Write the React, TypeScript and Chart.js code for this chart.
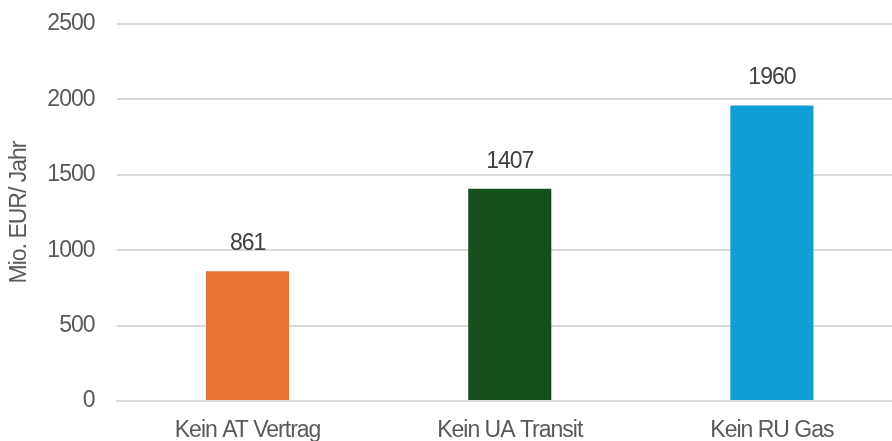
import React, { useEffect, useRef } from "react";
import { Chart, registerables } from "chart.js";

Chart.register(...registerables);

const categories = ["Kein AT Vertrag", "Kein UA Transit", "Kein RU Gas"];
const values = [861, 1407, 1960];
const barColors = ["#E97132", "#154F1D", "#0F9ED5"];
const yTicks = [0, 500, 1000, 1500, 2000, 2500];
const yTitle = "Mio. EUR/ Jahr";

const FONT = "'Liberation Sans', Arial, sans-serif";
const TEXT = "#595959";
const SPACING = "-1px";

const valueLabels = {
  id: "valueLabels",
  afterDatasetsDraw(chart: any) {
    const ctx = chart.ctx;
    const meta = chart.getDatasetMeta(0);
    ctx.save();
    ctx.font = `23px ${FONT}`;
    ctx.fillStyle = "#404040";
    ctx.textAlign = "center";
    ctx.textBaseline = "middle";
    try { (ctx as any).letterSpacing = SPACING; } catch (e) {}
    meta.data.forEach((el: any, i: number) => {
      ctx.fillText(String(values[i]), el.x, el.y - 27.5);
    });
    ctx.restore();
  },
};

const tightText = {
  id: "tightText",
  beforeInit(chart: any) {
    try { (chart.ctx as any).letterSpacing = SPACING; } catch (e) {}
  },
  beforeLayout(chart: any) {
    try { (chart.ctx as any).letterSpacing = SPACING; } catch (e) {}
  },
  beforeDraw(chart: any) {
    try { (chart.ctx as any).letterSpacing = SPACING; } catch (e) {}
  },
};

export default function App() {
  const ref = useRef<HTMLCanvasElement | null>(null);
  useEffect(() => {
    if (!ref.current) return;
    const chart = new Chart(ref.current, {
      type: "bar",
      data: {
        labels: categories,
        datasets: [
          {
            data: values,
            backgroundColor: barColors,
            borderWidth: 0,
            barPercentage: 0.317,
            categoryPercentage: 1,
          },
        ],
      },
      plugins: [tightText, valueLabels],
      options: {
        animation: false,
        responsive: false,
        maintainAspectRatio: false,
        layout: { padding: { top: 24, right: 8, bottom: 0, left: 0 } },
        plugins: { legend: { display: false }, tooltip: { enabled: false } },
        scales: {
          x: {
            grid: { display: false, drawTicks: false },
            border: { display: true, color: "#D9D9D9", width: 2 },
            ticks: { color: TEXT, font: { family: FONT, size: 23 }, padding: 16, maxRotation: 0 },
            afterFit(scale: any) {
              scale.height = 40;
              scale.paddingLeft = 0;
              scale.paddingRight = 0;
            },
          },
          y: {
            min: 0,
            max: 2500,
            afterBuildTicks(scale: any) { scale.ticks = yTicks.map((v) => ({ value: v })); },
            grid: { color: "#D9D9D9", lineWidth: 2, drawTicks: false },
            border: { display: false },
            ticks: {
              color: TEXT,
              font: { family: FONT, size: 23 },
              padding: 22,
              callback: (v: any) => String(v),
            },
            title: {
              display: true,
              text: yTitle,
              color: TEXT,
              font: { family: FONT, size: 23 },
              padding: { top: 6, bottom: 0 },
            },
            afterFit(scale: any) {
              scale.width = 116.5;
              scale.paddingTop = 0;
              scale.paddingBottom = 0;
            },
          },
        },
      },
    });
    return () => chart.destroy();
  }, []);
  return (
    <div style={{ position: "fixed", left: 0, top: 0, width: 892, height: 441, overflow: "hidden", background: "#fff" }}>
      <canvas ref={ref} width={911} height={441} style={{ display: "block" }} />
    </div>
  );
}
